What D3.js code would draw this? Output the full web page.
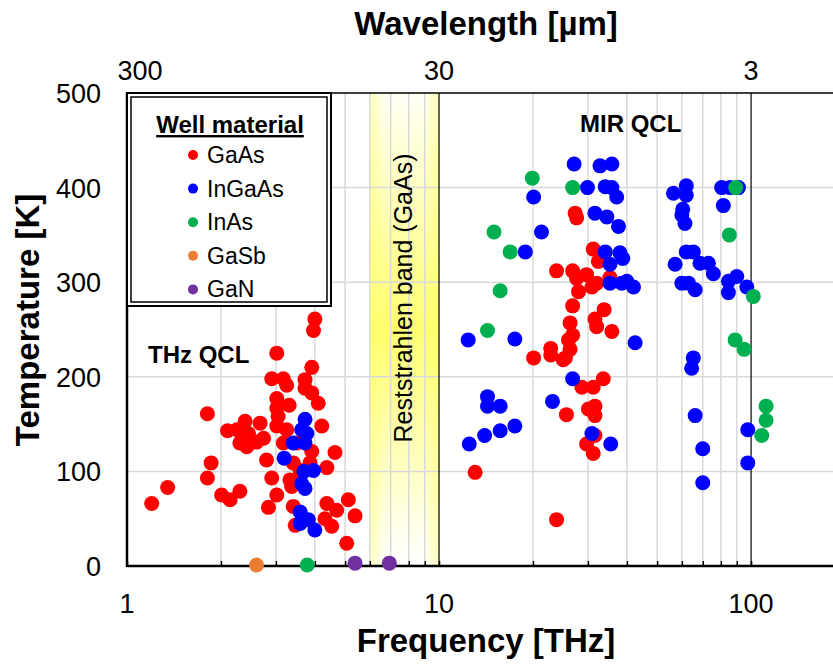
<!DOCTYPE html>
<html>
<head>
<meta charset="utf-8">
<script src="https://cdn.jsdelivr.net/npm/d3@7"></script>
<style>
  body { margin: 0; background: #fff; }
  text { font-family: "Liberation Sans", Arial, sans-serif; }
</style>
</head>
<body>
<svg id="chart"></svg>
<script>
// [frequency THz, temperature K]
const gaAs = [
  [4.0, 261], [3.96, 249], [3.02, 225], [3.91, 210], [2.91, 198], [3.17, 198], [3.25, 191], [3.72, 197], [3.72, 188], [3.91, 183],
  [3.02, 177], [3.31, 170], [4.10, 172], [3.02, 167], [3.05, 158], [3.02, 148], [2.39, 153], [2.67, 151], [2.25, 144], [2.30, 130],
  [2.48, 133], [2.74, 135], [4.21, 148], [3.25, 144], [3.17, 130], [3.50, 130], [3.91, 121], [2.80, 112], [4.64, 120], [4.37, 104],
  [2.91, 93], [3.33, 91], [3.37, 84], [2.30, 79], [3.02, 75], [2.84, 62], [3.41, 63], [4.37, 66], [4.70, 59], [4.31, 50],
  [4.53, 42], [3.46, 43], [5.12, 70], [5.06, 24], [3.41, 109], [3.86, 109], [3.59, 101], [1.81, 161], [1.86, 109], [1.81, 93],
  [1.35, 83], [1.20, 66], [2.01, 75], [2.14, 70], [2.10, 143], [2.45, 140], [2.60, 131], [2.42, 126], [5.38, 53],
  [27.3, 373], [27.6, 368], [31.2, 335], [32.4, 322], [23.8, 312], [26.8, 312], [29.7, 308], [27.6, 304], [30.9, 295], [28.0, 290],
  [32.0, 299], [35.3, 305], [26.8, 275], [33.8, 271], [26.3, 257], [31.6, 261], [32.0, 253], [35.8, 248], [26.8, 244], [26.0, 239],
  [26.3, 229], [25.0, 218], [22.8, 230], [22.8, 223], [20.1, 220], [25.4, 220], [28.7, 189], [31.2, 189], [33.6, 198], [25.6, 160],
  [30.1, 166], [31.6, 169], [31.6, 159], [31.6, 138], [29.7, 129], [31.2, 119], [13.05, 99], [23.8, 49],
];

const inGaAs = [
  [3.72, 155], [3.63, 144], [3.77, 140], [3.41, 130], [3.72, 130], [3.19, 114], [3.69, 100], [3.96, 101], [3.63, 87], [3.72, 82],
  [3.59, 57], [3.81, 49], [3.59, 45], [4.0, 38],
  [27.1, 425], [32.8, 423], [35.8, 425], [29.9, 400], [34.1, 401], [35.8, 400], [37.1, 390], [20.1, 390], [21.3, 353], [18.9, 332],
  [31.6, 373], [34.5, 369], [37.6, 359], [34.1, 332], [38.0, 331], [38.8, 325], [35.3, 319], [35.3, 299], [38.5, 299], [40.0, 301],
  [42.0, 295], [12.4, 239], [17.5, 240], [42.5, 236], [26.8, 198], [14.3, 179], [14.3, 169], [15.7, 169], [23.1, 174], [12.5, 129],
  [14.0, 138], [15.7, 143], [17.5, 148], [30.9, 140], [35.5, 129],
  [62.0, 402], [56.4, 394], [62.0, 392], [60.4, 377], [60.0, 371], [61.4, 362], [62.0, 332], [65.3, 332], [57.1, 319], [68.6, 320],
  [73.0, 320], [75.7, 309], [60.0, 299], [63.0, 299], [66.2, 292], [80.5, 400], [85.6, 400], [91.1, 400], [81.5, 381], [84.6, 301],
  [90.0, 306], [84.6, 289], [96.9, 295], [65.3, 220], [64.5, 209], [66.2, 159], [70.0, 124], [70.0, 88], [97.6, 144], [97.6, 109],
];

const inAs = [
  [3.78, 1], [19.9, 410], [26.8, 400], [15.0, 353], [16.9, 332], [15.7, 291], [14.3, 249], [89.3, 400], [85.2, 350], [101.7, 285],
  [88.9, 239], [95.0, 229], [111.7, 169], [111.7, 154], [108.2, 138],
];

const gaSb = [[2.6, 1]];
const gaN = [[5.38, 3], [6.93, 3]];

const materials = ['GaAs', 'InGaAs', 'InAs', 'GaSb', 'GaN'];
const materialColors = ['#ff0000', '#0000ff', '#00b050', '#ed7d31', '#7030a0'];
const seriesData = [gaAs, inGaAs, inAs, gaSb, gaN];

const freqTicks = [1, 10, 100];
const wavelengthTicks = [300, 30, 3];
const tempTicks = [0, 100, 200, 300, 400, 500];
const reststrahlen = [6, 10];

const config = {
  width: 833,
  height: 666,
  left: 127,
  right: 845,
  top: 93,
  bottom: 566,
  dotRadius: 7.5,
};

const svg = d3.select('#chart')
  .attr('width', config.width)
  .attr('height', config.height);

const xScale = d3.scaleLog().domain([1, 200]).range([config.left, config.right]);
const yScale = d3.scaleLinear().domain([0, 500]).range([config.bottom, config.top]);
// top axis: wavelength in um = 300 / f[THz]
const wScale = d3.scaleLog().domain([300, 1.5]).range([config.left, config.right]);

const defs = svg.append('defs');
const vGrad = defs.append('linearGradient')
  .attr('id', 'bandV')
  .attr('x1', 0).attr('y1', 0).attr('x2', 0).attr('y2', 1);
vGrad.append('stop').attr('offset', '0%').attr('stop-color', '#fffff6');
vGrad.append('stop').attr('offset', '50%').attr('stop-color', '#ffff70');
vGrad.append('stop').attr('offset', '100%').attr('stop-color', '#ffffff');
const hGrad = defs.append('linearGradient')
  .attr('id', 'bandH')
  .attr('x1', 0).attr('y1', 0).attr('x2', 1).attr('y2', 0);
hGrad.append('stop').attr('offset', '0%').attr('stop-color', '#ffff60').attr('stop-opacity', 0.4);
hGrad.append('stop').attr('offset', '22%').attr('stop-color', '#ffff60').attr('stop-opacity', 0);
hGrad.append('stop').attr('offset', '78%').attr('stop-color', '#ffff60').attr('stop-opacity', 0);
hGrad.append('stop').attr('offset', '100%').attr('stop-color', '#ffff60').attr('stop-opacity', 0.4);

// Reststrahlen band
['url(#bandV)', 'url(#bandH)'].forEach((fill) => {
  svg.append('rect')
    .attr('x', xScale(reststrahlen[0]))
    .attr('y', config.top)
    .attr('width', xScale(reststrahlen[1]) - xScale(reststrahlen[0]))
    .attr('height', config.bottom - config.top)
    .attr('fill', fill);
});

// gridlines
const minorX = xScale.ticks().filter((d) => d > 1 && d < 200 && ![10, 100].includes(d));
svg.append('g')
  .selectAll('line')
  .data(minorX)
  .join('line')
  .attr('x1', (d) => xScale(d))
  .attr('x2', (d) => xScale(d))
  .attr('y1', config.top)
  .attr('y2', config.bottom)
  .attr('stroke', '#d9d9d9')
  .attr('stroke-width', 1.5);

svg.append('g')
  .selectAll('line')
  .data(tempTicks.filter((d) => d > 0 && d < 500))
  .join('line')
  .attr('x1', config.left)
  .attr('x2', config.right)
  .attr('y1', (d) => yScale(d))
  .attr('y2', (d) => yScale(d))
  .attr('stroke', '#d9d9d9')
  .attr('stroke-width', 1.5);

svg.append('g')
  .selectAll('line')
  .data([10, 100])
  .join('line')
  .attr('x1', (d) => xScale(d))
  .attr('x2', (d) => xScale(d))
  .attr('y1', config.top)
  .attr('y2', config.bottom)
  .attr('stroke', '#000')
  .attr('stroke-width', 1.2);

// top border
svg.append('line')
  .attr('x1', config.left).attr('x2', config.right)
  .attr('y1', yScale(500)).attr('y2', yScale(500))
  .attr('stroke', '#000').attr('stroke-width', 1.5);

// bottom axis with inward ticks
const xAxis = d3.axisBottom(xScale)
  .tickValues(xScale.ticks().filter((d) => d < 200))
  .tickSize(-5)
  .tickFormat('');
const xAxisG = svg.append('g')
  .attr('transform', `translate(0,${config.bottom})`)
  .call(xAxis);
xAxisG.select('.domain').attr('stroke-width', 2.5).attr('d', `M${config.left},0H${config.right}`);
xAxisG.selectAll('.tick line').attr('stroke-width', 1.5);

svg.append('line')
  .attr('x1', config.left).attr('x2', config.left)
  .attr('y1', config.top).attr('y2', config.bottom + 1)
  .attr('stroke', '#000').attr('stroke-width', 2.5);

// tick labels
svg.append('g')
  .selectAll('text')
  .data(tempTicks)
  .join('text')
  .attr('x', 101)
  .attr('y', (d) => yScale(d) + 10)
  .attr('text-anchor', 'end')
  .attr('font-size', 27)
  .text((d) => d);

svg.append('g')
  .selectAll('text')
  .data(freqTicks)
  .join('text')
  .attr('x', (d) => xScale(d))
  .attr('y', 613)
  .attr('text-anchor', 'middle')
  .attr('font-size', 27)
  .text((d) => d);

svg.append('g')
  .selectAll('text')
  .data(wavelengthTicks)
  .join('text')
  .attr('x', (d, i) => wScale(d) + (i === 0 ? 13 : 0))
  .attr('y', 80)
  .attr('text-anchor', 'middle')
  .attr('font-size', 27)
  .text((d) => d);

// axis titles
const plotMid = (config.left + config.right) / 2;
svg.append('text')
  .attr('x', plotMid).attr('y', 35)
  .attr('text-anchor', 'middle')
  .attr('font-size', 33).attr('font-weight', 'bold')
  .text('Wavelength [µm]');
svg.append('text')
  .attr('x', plotMid).attr('y', 652)
  .attr('text-anchor', 'middle')
  .attr('font-size', 33).attr('font-weight', 'bold')
  .text('Frequency [THz]');
svg.append('text')
  .attr('transform', `translate(39,320) rotate(-90)`)
  .attr('text-anchor', 'middle')
  .attr('font-size', 33).attr('font-weight', 'bold')
  .text('Temperature [K]');

// annotations
svg.append('text')
  .attr('transform', 'translate(412,298) rotate(-90)')
  .attr('text-anchor', 'middle')
  .attr('font-size', 25)
  .text('Reststrahlen band (GaAs)');
svg.append('text')
  .attr('x', 148).attr('y', 363)
  .attr('font-size', 24).attr('font-weight', 'bold')
  .text('THz QCL');
svg.append('text')
  .attr('x', 580).attr('y', 132)
  .attr('font-size', 24).attr('font-weight', 'bold')
  .text('MIR QCL');

// legend
const legend = svg.append('g');
legend.append('rect')
  .attr('x', config.left).attr('y', config.top)
  .attr('width', 204).attr('height', 213)
  .attr('fill', '#fff').attr('stroke', '#000').attr('stroke-width', 2);
legend.append('rect')
  .attr('x', config.left + 4).attr('y', config.top + 4)
  .attr('width', 196).attr('height', 205)
  .attr('fill', 'none').attr('stroke', '#000').attr('stroke-width', 1.5);
legend.append('text')
  .attr('x', 230).attr('y', 133)
  .attr('text-anchor', 'middle')
  .attr('font-size', 24).attr('font-weight', 'bold')
  .attr('text-decoration', 'underline')
  .text('Well material');
const items = legend.selectAll('.item')
  .data(materials)
  .join('g')
  .attr('class', 'item')
  .attr('transform', (d, i) => `translate(193,${155 + i * 33.6})`);
items.append('circle')
  .attr('r', 5)
  .attr('fill', (d, i) => materialColors[i]);
items.append('text')
  .attr('x', 14).attr('y', 8)
  .attr('font-size', 23)
  .text((d) => d);

// data points
seriesData.forEach((series, i) => {
  svg.append('g')
    .selectAll('circle')
    .data(series)
    .join('circle')
    .attr('cx', (d) => xScale(d[0]))
    .attr('cy', (d) => yScale(d[1]))
    .attr('r', config.dotRadius)
    .attr('fill', materialColors[i]);
});
</script>
</body>
</html>
